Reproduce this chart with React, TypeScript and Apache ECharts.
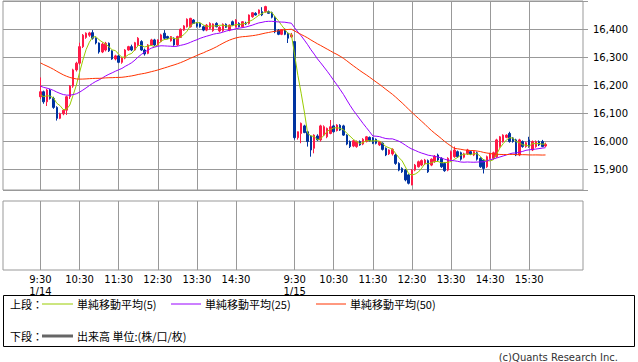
import React, { useEffect, useRef } from 'react';
import * as echarts from 'echarts';

const dates = ['1/14', '1/15'];
const day1Ticks = ['9:30', '10:30', '11:30', '12:30', '13:30', '14:30'];
const day2Ticks = ['9:30', '10:30', '11:30', '12:30', '13:30', '14:30', '15:30'];

// closes of the previous session (hidden, feed the moving averages)
const prevCloses = [
  16445, 16440, 16432, 16428, 16430, 16420, 16418, 16412, 16410, 16405,
  16390, 16378, 16365, 16355, 16345, 16335, 16325, 16318, 16310, 16300,
  16292, 16285, 16275, 16270, 16267,
  16255, 16248, 16240, 16232, 16228, 16220, 16212, 16205,
  16208, 16200, 16205, 16195, 16191, 16188, 16178, 16170, 16175, 16182,
  16176, 16168, 16172, 16165, 16160, 16151,
];

// [open, high, low, close] 5-minute bars
const day1 = [
  [16158, 16227, 16150, 16176], [16176, 16180, 16133, 16140], [16140, 16186, 16125, 16182], [16182, 16186, 16148, 16152],
  [16152, 16158, 16115, 16120], [16120, 16124, 16073, 16081], [16081, 16101, 16078, 16097], [16097, 16114, 16092, 16110],
  [16110, 16162, 16093, 16158], [16158, 16200, 16150, 16196], [16196, 16258, 16190, 16254], [16254, 16283, 16248, 16278],
  [16278, 16351, 16272, 16337], [16337, 16382, 16332, 16378], [16370, 16388, 16365, 16385], [16378, 16390, 16372, 16386],
  [16387, 16396, 16362, 16367], [16367, 16370, 16345, 16350], [16350, 16352, 16312, 16318], [16318, 16352, 16314, 16346],
  [16325, 16354, 16320, 16349], [16349, 16352, 16318, 16322], [16322, 16324, 16290, 16293], [16293, 16308, 16288, 16304],
  [16304, 16308, 16278, 16281], [16281, 16300, 16276, 16296], [16296, 16328, 16292, 16325], [16325, 16340, 16322, 16337],
  [16337, 16344, 16321, 16325], [16325, 16354, 16322, 16351], [16343, 16371, 16340, 16367], [16355, 16360, 16322, 16325],
  [16325, 16330, 16305, 16311], [16313, 16346, 16310, 16343], [16343, 16365, 16340, 16361], [16361, 16365, 16340, 16343],
  [16343, 16363, 16341, 16361], [16355, 16383, 16352, 16379], [16385, 16396, 16362, 16367], [16373, 16376, 16364, 16367],
  [16358, 16375, 16355, 16373], [16367, 16370, 16340, 16343], [16343, 16376, 16340, 16373], [16370, 16402, 16368, 16399],
  [16396, 16414, 16393, 16411], [16408, 16438, 16405, 16435], [16408, 16440, 16405, 16438], [16432, 16435, 16418, 16420],
  [16420, 16425, 16405, 16410], [16420, 16424, 16405, 16408], [16408, 16412, 16392, 16396], [16396, 16418, 16392, 16414],
  [16402, 16424, 16398, 16420], [16394, 16420, 16390, 16418], [16420, 16424, 16406, 16408], [16393, 16410, 16388, 16406],
  [16394, 16420, 16390, 16417], [16417, 16420, 16404, 16406], [16396, 16416, 16392, 16414], [16426, 16430, 16412, 16414],
  [16408, 16435, 16405, 16432], [16420, 16424, 16406, 16408], [16408, 16428, 16405, 16426], [16420, 16426, 16414, 16418],
  [16420, 16452, 16416, 16450], [16444, 16460, 16440, 16458], [16456, 16460, 16448, 16450], [16456, 16470, 16452, 16468],
  [16462, 16478, 16446, 16450], [16462, 16483, 16458, 16480], [16462, 16466, 16455, 16456], [16458, 16462, 16438, 16442],
  [16442, 16446, 16385, 16390], [16396, 16400, 16378, 16381], [16381, 16400, 16378, 16398], [16399, 16402, 16378, 16381],
  [16385, 16388, 16350, 16367], [16372, 16386, 16368, 16379],
];

const day2 = [
  [16355, 16356, 16005, 16012], [16012, 16034, 16005, 16033], [16027, 16066, 15992, 16063], [16054, 16058, 16028, 16030],
  [16033, 16036, 15980, 15998], [16018, 16021, 15944, 15968], [15974, 16024, 15956, 16021], [16018, 16024, 16000, 16004],
  [16004, 16058, 15998, 16054], [16021, 16056, 16018, 16051], [16015, 16048, 16010, 16045], [16027, 16075, 16024, 16051],
  [16054, 16058, 16030, 16033], [16037, 16060, 16034, 16057], [16056, 16060, 16036, 16039], [16054, 16058, 16018, 16021],
  [16021, 16024, 15985, 15989], [15998, 16002, 15975, 15980], [15982, 16004, 15978, 16001], [15980, 16002, 15976, 15998],
  [15998, 16002, 15983, 15986], [15989, 16010, 15985, 16006], [15998, 16018, 15995, 16015], [16013, 16016, 15998, 16001],
  [16011, 16014, 15989, 15992], [16006, 16009, 15988, 15992], [15986, 16000, 15982, 15998], [15992, 15995, 15966, 15970],
  [15974, 15977, 15946, 15950], [15954, 15970, 15950, 15968], [15954, 15974, 15948, 15970], [15950, 15955, 15915, 15920],
  [15920, 15924, 15892, 15896], [15902, 15906, 15886, 15890], [15896, 15900, 15856, 15861], [15879, 15882, 15845, 15849],
  [15843, 15900, 15842, 15896], [15896, 15918, 15892, 15914], [15908, 15930, 15905, 15926], [15914, 15934, 15910, 15930],
  [15918, 15936, 15914, 15932], [15930, 15934, 15886, 15890], [15914, 15938, 15910, 15935], [15926, 15950, 15922, 15946],
  [15950, 15955, 15928, 15932], [15938, 15942, 15904, 15908], [15920, 15924, 15890, 15894], [15896, 15942, 15892, 15938],
  [15935, 15966, 15930, 15962], [15944, 15980, 15940, 15968], [15962, 15966, 15940, 15944], [15958, 15962, 15930, 15935],
  [15942, 15958, 15938, 15954], [15954, 15972, 15950, 15968], [15962, 15966, 15950, 15954], [15950, 15966, 15946, 15962],
  [15958, 15962, 15930, 15935], [15938, 15942, 15904, 15908], [15932, 15935, 15884, 15902], [15908, 15948, 15904, 15944],
  [15938, 15958, 15934, 15954], [15938, 15962, 15934, 15958], [15944, 16008, 15940, 16004], [15980, 16018, 15976, 16015],
  [15998, 16024, 15994, 16021], [16013, 16024, 16010, 16021], [16027, 16033, 15994, 15998], [16011, 16014, 15994, 15998],
  [16004, 16008, 15946, 15950], [15950, 16008, 15946, 16004], [15998, 16002, 15976, 15980], [15980, 15998, 15976, 15994],
  [16004, 16015, 15976, 15980], [15968, 16002, 15964, 15998], [15980, 16002, 15976, 15998], [15998, 16002, 15982, 15986],
  [15998, 16004, 15978, 15980], [15982, 15994, 15978, 15988],
];

const maPeriods = [5, 25, 50];
const maColors = ['#99cc00', '#9900ff', '#ff3300'];
const maNames = ['単純移動平均(5)', '単純移動平均(25)', '単純移動平均(50)'];
const volumeLabel = '出来高 単位:(株/口/枚)';
const upperLabel = '上段：';
const lowerLabel = '下段：';
const copyright = '(c)Quants Research Inc.';

const PAD_L = 11;
const PAD_R = 11;

function sessionTimes(n: number): string[] {
  const out: string[] = [];
  for (let k = 0; k < n; k++) {
    const m = 9 * 60 + 30 + 5 * k;
    out.push(Math.floor(m / 60) + ':' + String(m % 60).padStart(2, '0'));
  }
  return out;
}

export default function App() {
  const ref = useRef<HTMLDivElement>(null);
  useEffect(() => {
    const chart = echarts.init(ref.current!, null, { renderer: 'svg' });
    const cats: string[] = [];
    const labelMap: Record<number, string> = {};
    for (let i = 0; i < PAD_L; i++) cats.push('L' + i);
    const days = [day1, day2];
    const ticks = [day1Ticks, day2Ticks];
    days.forEach((d, di) => {
      const times = sessionTimes(d.length);
      d.forEach((_, k) => {
        const idx = cats.length;
        const t = times[k];
        cats.push(dates[di] + ' ' + t);
        if (ticks[di].includes(t)) labelMap[idx] = k === 0 ? t + '\n' + dates[di] : t;
      });
    });
    for (let i = 0; i < PAD_R; i++) cats.push('R' + i);

    const bars = [...day1, ...day2];
    const pad = (n: number) => Array.from({ length: n }, () => '-' as any);
    const candleData = [
      ...Array.from({ length: PAD_L }, () => ['-', '-', '-', '-']),
      ...bars.map(b => [b[0], b[3], b[2], b[1]]),
      ...Array.from({ length: PAD_R }, () => ['-', '-', '-', '-']),
    ];
    const allCloses = [...prevCloses, ...bars.map(b => b[3])];
    const maSeries = maPeriods.map((n, mi) => {
      const vals = bars.map((_, k) => {
        const p = prevCloses.length + k;
        let s = 0;
        for (let j = p - n + 1; j <= p; j++) s += allCloses[j];
        return +(s / n).toFixed(2);
      });
      return {
        type: 'line',
        name: maNames[mi],
        xAxisIndex: 0,
        yAxisIndex: 0,
        data: [...pad(PAD_L), ...vals, ...pad(PAD_R)],
        showSymbol: false,
        symbol: 'none',
        lineStyle: { color: maColors[mi], width: 1 },
        z: 3,
      };
    });

    const tickFn = (idx: number) => labelMap[idx] !== undefined;
    const split = { show: true, interval: tickFn, alignWithLabel: true, lineStyle: { color: '#999', width: 1 } };
    const font = 'DejaVu Sans';
    const cjk = '11px "Noto Sans CJK JP"';
    const row1 = 304;
    const row2 = 336;
    const txt = (x: number, y: number, text: string, f: string, fill = '#000', align = 'left') => ({
      type: 'text', x, y, silent: true,
      style: { text, font: f, fill, align, verticalAlign: 'middle', textAlign: align, textVerticalAlign: 'middle' },
    });
    const ln = (x1: number, x2: number, y: number, color: string, w: number) => ({
      type: 'line', silent: true, shape: { x1, y1: y, x2, y2: y }, style: { stroke: color, lineWidth: w },
    });

    chart.setOption({
      animation: false,
      grid: [
        { left: 3, top: 1, width: 580, height: 189, show: true, borderColor: '#999', borderWidth: 1, backgroundColor: 'transparent' },
        { left: 3, top: 201, width: 580, height: 69, show: true, borderColor: '#999', borderWidth: 1, backgroundColor: 'transparent' },
      ],
      xAxis: [
        {
          type: 'category', gridIndex: 0, data: cats, boundaryGap: true,
          axisLine: { show: false }, axisTick: { show: false }, axisLabel: { show: false }, splitLine: split,
        },
        {
          type: 'category', gridIndex: 1, data: cats, boundaryGap: true,
          axisLine: { show: false }, axisTick: { show: false },
          axisLabel: {
            show: true, interval: tickFn, formatter: (_v: string, idx: number) => labelMap[idx] ?? '',
            color: '#000', fontSize: 10, fontFamily: font, lineHeight: 12, margin: 3,
          },
          splitLine: split,
        },
      ],
      yAxis: [
        {
          type: 'value', gridIndex: 0, position: 'right', min: 15825, max: 16500, splitNumber: 7, scale: true,
          axisLine: { show: false },
          axisTick: { show: true, length: 5, lineStyle: { color: '#999' } },
          axisLabel: {
            margin: 10, fontSize: 10, fontFamily: font, color: '#000',
            formatter: (v: number) => (v === 15825 || v === 16500 ? '' : v.toLocaleString('en-US')),
          },
          splitLine: { show: true, lineStyle: { color: '#999', width: 1 } },
        },
        { type: 'value', gridIndex: 1, show: false, min: 0, max: 1, splitLine: { show: false } },
      ],
      series: [
        {
          type: 'candlestick', xAxisIndex: 0, yAxisIndex: 0, data: candleData, barWidth: 2,
          itemStyle: { color: '#ff1a47', color0: '#0033a0', borderColor: '#ff1a47', borderColor0: '#0033a0', borderWidth: 1 },
          z: 2,
        },
        ...maSeries,
      ],
      graphic: [
        { type: 'rect', silent: true, shape: { x: 3.5, y: 295.5, width: 631, height: 51 }, style: { fill: '#fff', stroke: '#000', lineWidth: 1 } },
        txt(10, row1, upperLabel, cjk),
        ln(42, 73, row1, maColors[0], 1),
        txt(77, row1, maNames[0], cjk),
        ln(171, 201, row1, maColors[1], 1),
        txt(205, row1, maNames[1], cjk),
        ln(316, 346, row1, maColors[2], 1),
        txt(350, row1, maNames[2], cjk),
        txt(10, row2, lowerLabel, cjk),
        ln(42, 73, row2, '#666', 3),
        txt(77, row2, volumeLabel, cjk),
        txt(618, 357, copyright, '10px "DejaVu Sans"', '#333', 'right'),
      ],
    });
    return () => chart.dispose();
  }, []);
  return <div ref={ref} style={{ position: 'absolute', left: 0, top: 0, width: 638, height: 362 }} />;
}
